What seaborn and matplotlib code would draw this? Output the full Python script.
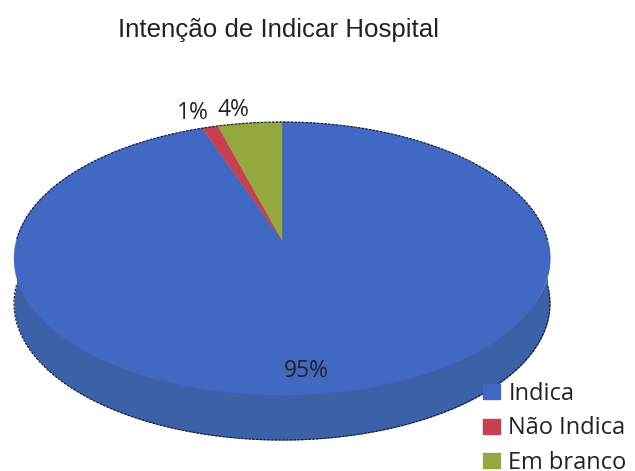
import numpy as np
import matplotlib
matplotlib.use('Agg')
import matplotlib.pyplot as plt
from matplotlib.patches import PathPatch, Patch
from matplotlib.path import Path
import seaborn as sns

categories = ['Indica', 'Não Indica', 'Em branco']
values = [94.5, 1.1, 4.4]
pct_labels = ['95%', '1%', '4%']
title = 'Intenção de Indicar Hospital'

sns.set_theme(style='white')
plt.rcParams['font.family'] = ['Open Sans', 'DejaVu Sans']
colors = sns.color_palette(['#4168C2', '#C8404F', '#93A83E'])
side_color = '#3D61A9'

# perspective squash of the unit pie, in pixels of the figure
cx, cy = 282, 240
a, b, k = 265.5, 134, 0.1355
depth = 45

def warp(v):
  w = 1 + k * v[:, 1]
  return np.column_stack((cx + a * v[:, 0] / w, cy - b * v[:, 1] / w))

fig = plt.figure(figsize=(6.35, 4.71), dpi=100)
ax = fig.add_axes([0, 0, 1, 1])
wedges, _ = ax.pie(values, colors=colors, startangle=90, counterclock=False)
ax.set_aspect('auto')

# side wall under the face, runs a little under it so no seam shows
t = np.linspace(np.pi, 2 * np.pi, 300)
rim = warp(np.column_stack((np.cos(t), np.sin(t))))
ax.fill_between(rim[:, 0], rim[:, 1] + 4 * np.sin(t), rim[:, 1] + depth, color=side_color, lw=0)
ax.plot(rim[:, 0], rim[:, 1] + depth, color='#1a2238', lw=0.9, ls=(0, (2, 1)))

# warped faces
for w, c in zip(wedges, colors):
  p = w.get_path()
  ax.add_patch(PathPatch(Path(warp(p.vertices), p.codes), facecolor=c, edgecolor=c, lw=0.3, zorder=3))
  w.remove()

t = np.linspace(0, np.pi, 300)
top = warp(np.column_stack((np.cos(t), np.sin(t))))
ax.plot(top[:, 0], top[:, 1], color='#1a2238', lw=0.9, ls=(0, (2, 1)), zorder=4)

ax.set_xlim(0, 635)
ax.set_ylim(471, 0)
ax.axis('off')

ax.text(278, 30, title, ha='center', va='center', fontsize=18.6, family='Liberation Sans', color='#222222')
ax.text(306, 371, pct_labels[0], ha='center', va='center', fontsize=16.5, color='#222222', zorder=5)
ax.text(193, 113, pct_labels[1], ha='center', va='center', fontsize=16.5, color='#222222', zorder=5)
ax.text(233, 110, pct_labels[2], ha='center', va='center', fontsize=16.5, color='#222222', zorder=5)

handles = [Patch(color=c) for c in colors]
ax.legend(handles, categories, loc='upper left', bbox_to_anchor=(466, 365), bbox_transform=ax.transData,
          frameon=False, fontsize=17, handlelength=0.75, handleheight=0.6, handletextpad=0.34,
          labelspacing=0.46, borderpad=0.2, labelcolor='#222222').set_zorder(6)

fig.savefig('out.png', dpi=100)
